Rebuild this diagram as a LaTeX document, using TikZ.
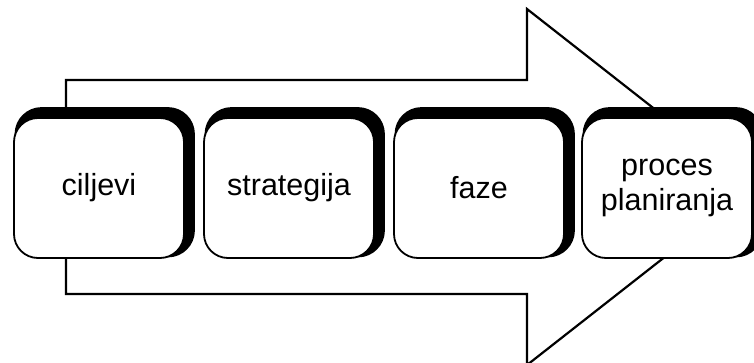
\documentclass[tikz,border=0pt]{standalone}
\usepackage{fontspec}
\setmainfont{Liberation Sans}
\pgfdeclarelayer{background}
\pgfsetlayers{background,main}
\begin{document}
\begin{tikzpicture}[x=1pt,y=-1pt,
  stagebox/.style={draw=black, line width=1.8pt, fill=white,
    rounded corners=24pt, minimum width=170pt, minimum height=140pt,
    inner sep=0pt, align=center,
    font=\fontsize{30.5}{35}\selectfont},
  boxshadow/.style={fill=black, rounded corners=27pt},
  bigarrow/.style={draw=black, line width=2.2pt, fill=white, line join=miter}]
\useasboundingbox (0,0) rectangle (754,362);
% stages
\node[stagebox] (ciljevi)    at (99,188)  {ciljevi};
\node[stagebox] (strategija) at (289,188) {strategija};
\node[stagebox] (faze)       at (479,188) {faze};
\node[stagebox] (proces)     at (667,188) {proces\\planiranja};
\begin{pgfonlayer}{background}
% big arrow behind the boxes
\draw[bigarrow] (66,80) -- (527,80) -- (527,9) -- (754,187) -- (527,365)
  -- (527,294) -- (66,294) -- cycle;
% raised shadows
\foreach \n in {ciljevi,strategija,faze,proces}
  \fill[boxshadow] ([shift={(1.5pt,1.5pt)}]\n.south west) rectangle ([shift={(10pt,10pt)}]\n.north east);
\end{pgfonlayer}
\end{tikzpicture}
\end{document}
